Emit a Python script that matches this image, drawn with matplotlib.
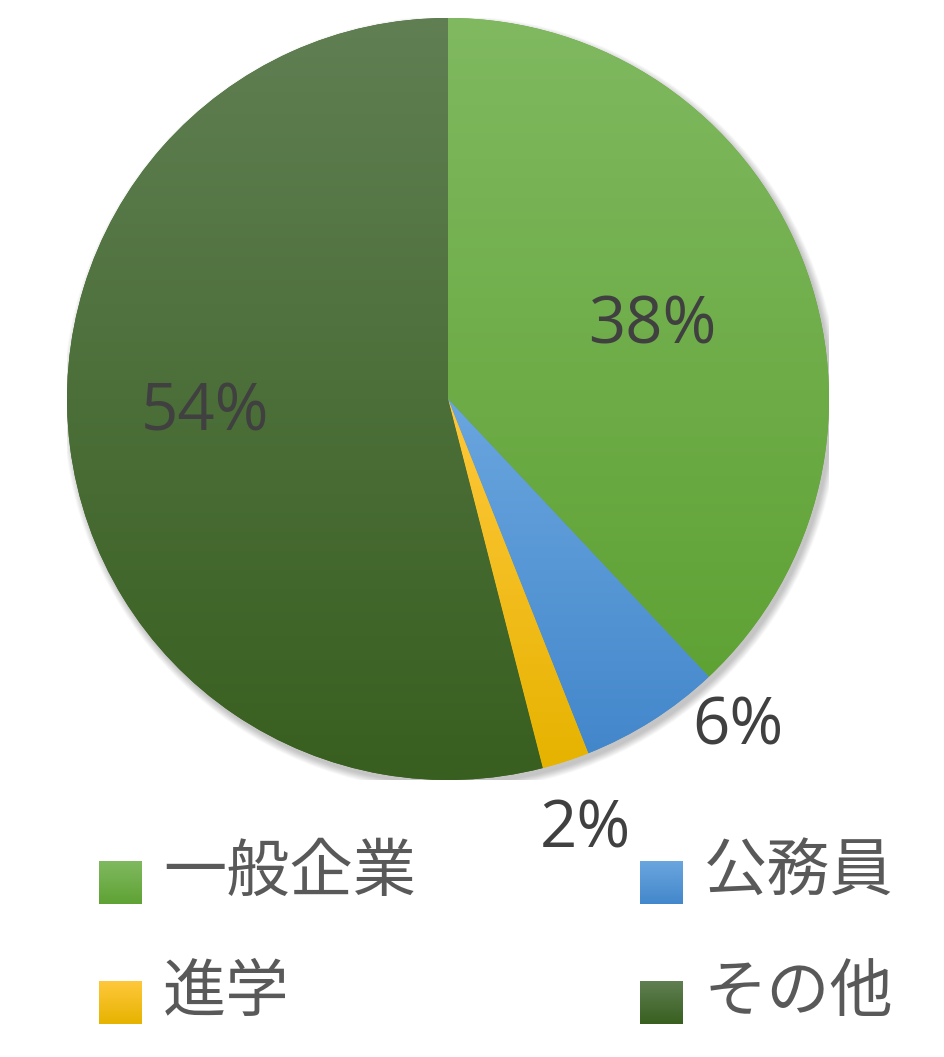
import numpy as np
import matplotlib
matplotlib.use("Agg")
import matplotlib.pyplot as plt
from matplotlib.colors import LinearSegmentedColormap
from matplotlib.patches import Circle

plt.rcParams['font.family'] = ['Noto Sans CJK JP', 'DejaVu Sans']

# data
categories = ['一般企業', '公務員', '進学', 'その他']
values = [38, 6, 2, 54]
pct_labels = ['38%', '6%', '2%', '54%']

# gradient colours (top, bottom) per slice
grad_colors = [
    ('#80b960', '#5fa234'),
    ('#6aa6df', '#4387cb'),
    ('#ffc83c', '#e6b300'),
    ('#607f53', '#385f1f'),
]
# label placement: radius and angle shift from slice middle (deg)
label_r = [0.57, 1.15, 1.19, 0.64]
label_shift = [-2.0, 9.0, -0.3, -3.7]

W, H = 945, 1057
cx, cy, R = 448, 399, 381

fig = plt.figure(figsize=(W / 100, H / 100), dpi=100)
ax = fig.add_axes([(cx - R) / W, 1 - (cy + R) / H, 2 * R / W, 2 * R / H])

wedges, _ = ax.pie(values, startangle=90, counterclock=False, radius=1,
                   wedgeprops=dict(linewidth=0))

# soft shadow
for i in range(10):
    ax.add_patch(Circle((0.008, -0.012), 1.0 + i * 0.002, color='black',
                        alpha=0.025, zorder=0, lw=0))

grad = np.linspace(0, 1, 256).reshape(-1, 1)
for w, (top, bot) in zip(wedges, grad_colors):
    w.set_facecolor(bot)
    w.set_zorder(1)
    ext = w.get_path().get_extents()
    cmap = LinearSegmentedColormap.from_list('g', [bot, top])
    im = ax.imshow(grad, extent=[ext.x0, ext.x1, ext.y0, ext.y1],
                   origin='lower', cmap=cmap, aspect='auto', zorder=2,
                   interpolation='bilinear')
    im.set_clip_path(w)

# percentage labels
cum = np.cumsum([0] + values)
total = float(sum(values))
for i, lab in enumerate(pct_labels):
    mid = 90 - (cum[i] + values[i] / 2.0) / total * 360 + label_shift[i]
    a = np.deg2rad(mid)
    ax.text(label_r[i] * np.cos(a), label_r[i] * np.sin(a), lab,
            ha='center', va='center', fontsize=47, color='#404040',
            family=['Open Sans', 'DejaVu Sans'], zorder=5)

ax.set_xlim(-1, 1)
ax.set_ylim(-1, 1)
ax.set_aspect('auto')
ax.axis('off')

# legend drawn in pixel space
lax = fig.add_axes([0, 0, 1, 1], facecolor='none')
col_x = [99, 640]
row_y = [861, 981]
sq = 43
for i, name in enumerate(categories):
    x0 = col_x[i % 2]
    y0 = row_y[i // 2]
    top, bot = grad_colors[i]
    cmap = LinearSegmentedColormap.from_list('g', [top, bot])
    lax.imshow(grad, extent=[x0, x0 + sq, y0 + sq, y0], origin='upper',
               cmap=cmap, aspect='auto', interpolation='bilinear')
    lax.text(x0 + 64, y0 + 12, name, ha='left', va='center',
             fontsize=45.5, color='#595959')
lax.set_xlim(0, W)
lax.set_ylim(H, 0)
lax.axis('off')

fig.savefig('out.png', dpi=100, facecolor='white')
